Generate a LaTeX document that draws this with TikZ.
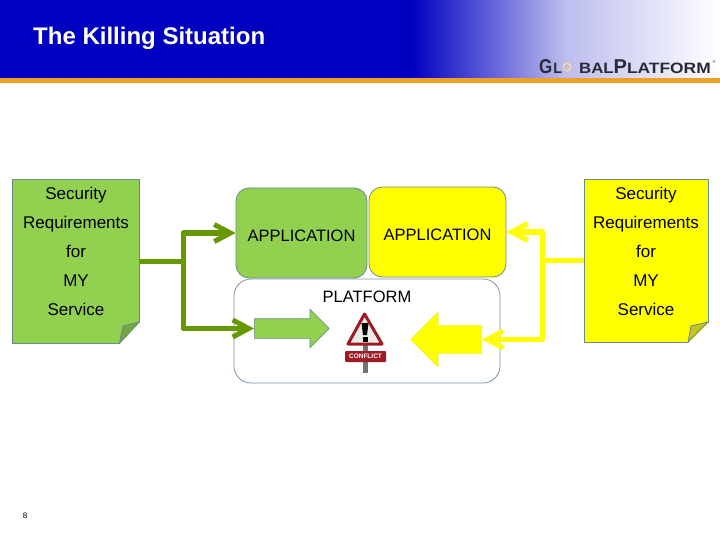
\documentclass[tikz,border=0pt]{standalone}
\usepackage{fontspec}
\setmainfont{Liberation Sans}
\usetikzlibrary{arrows.meta,shapes.arrows,shapes.geometric}
\definecolor{gpblue}{HTML}{0000C0}
\definecolor{gporange}{HTML}{F0A028}
\definecolor{docgreen}{HTML}{92D050}
\definecolor{docyellow}{HTML}{FFFF00}
\definecolor{lingreen}{HTML}{669900}
\definecolor{foldgreen}{HTML}{75A642}
\definecolor{foldyellow}{HTML}{C4C41E}
\definecolor{edgegray}{HTML}{6C8C8C}
\definecolor{platedge}{HTML}{7A94AA}
\definecolor{signred}{HTML}{A01C24}
\definecolor{logogray}{HTML}{2A2A36}
\tikzset{
	secdoc/.style={rectangle,draw=edgegray,line width=0.8pt,inner sep=0pt},
	sectext/.style={inner sep=0pt,align=center,font=\fontsize{17}{29}\selectfont},
	appbox/.style={rectangle,rounded corners=13pt,draw=edgegray,line width=0.8pt,text height=17pt,font=\fontsize{16.5}{20}\selectfont},
	blockarrow/.style={single arrow,draw=edgegray,line width=0.6pt,inner xsep=0pt,inner ysep=#1,single arrow head extend=#1},
	greenline/.style={draw=lingreen,line width=5pt,line join=round,line cap=round},
	yellowline/.style={draw=docyellow,line width=5pt,line join=round,line cap=round},
	linetip/.style={-{Straight Barb[length=16pt,width=17pt]}}
}
\begin{document}
\begin{tikzpicture}[x=1pt,y=-1pt]
	\useasboundingbox (0,0) rectangle (720,540);
	% header
	\fill[gpblue] (0,0) rectangle (412,78);
	\shade[left color=gpblue,right color=white,middle color=gpblue!26] (411,0) rectangle (720,78);
	\fill[gporange] (0,78) rectangle (720,83);
	\node[anchor=base west,white,inner sep=0pt,font=\bfseries\fontsize{24}{28}\selectfont] (title) at (33,45) {The Killing Situation};
	\node[anchor=base west,inner sep=0pt,text=logogray,font=\bfseries\fontsize{20}{22}\selectfont] (logo) at (539,74) {\scalebox{0.85}[1]{G}\hspace{1pt}\fontsize{15}{22}\selectfont\scalebox{0.95}[1]{L}\hspace{17pt}\scalebox{1.12}[1]{BAL}\fontsize{20}{22}\selectfont P\fontsize{15}{22}\selectfont\scalebox{1.16}[1]{LATFORM}};
	\draw[gporange!45,line width=1.6pt] (567,67) circle (3.8pt);
	\node[inner sep=0pt,text=black!60,font=\fontsize{4}{4}\selectfont] (regmark) at (714,62) {R};
	% the two requirement sheets
	\node[secdoc,fill=docgreen,minimum width=127pt,minimum height=164pt] (secL) at (75.5,261) {};
	\fill[white] (119.5,344.5) -- (140.5,344.5) -- (140.5,322) -- cycle;
	\draw[edgegray,line width=0.8pt,fill=foldgreen] (119.5,343) -- (123,326) -- (139,322) -- cycle;
	\node[sectext] (secLtext) at (76,251.2) {Security\\Requirements\\for\\MY\\Service};
	\node[secdoc,fill=docyellow,minimum width=124pt,minimum height=163pt] (secR) at (646,260.5) {};
	\fill[white] (688,343.5) -- (709.5,343.5) -- (709.5,322) -- cycle;
	\draw[edgegray,line width=0.8pt,fill=foldyellow] (688,342) -- (691,326) -- (708,322) -- cycle;
	\node[sectext] (secRtext) at (646,251.2) {Security\\Requirements\\for\\MY\\Service};
	% stack in the middle
	\node[appbox,fill=docgreen,minimum width=131pt,minimum height=90pt] (appL) at (301.5,233) {APPLICATION};
	\node[appbox,fill=docyellow,minimum width=137pt,minimum height=90pt] (appR) at (437.5,232) {APPLICATION};
	\node[rectangle,rounded corners=17pt,draw=platedge,line width=0.8pt,fill=white,minimum width=266pt,minimum height=104pt] (plat) at (367,331) {};
	\node[font=\fontsize{16.5}{20}\selectfont,inner sep=0pt] (plattext) at (367,297) {PLATFORM};
	\node[blockarrow=9.5pt,fill=docgreen,minimum height=75pt,anchor=tail] (blockL) at (254,328.5) {};
	\node[blockarrow=13.5pt,fill=docyellow,draw=docyellow!80!docgreen,minimum height=71pt,shape border rotate=180,anchor=tail] (blockR) at (482,339.5) {};
	% conflict sign
	\fill[black!55] (363,335) rectangle (368,373);
	\draw[signred,line width=3pt,line join=round,fill=black!8] (364.5,314) -- (348,344) -- (382,344) -- cycle;
	\fill[black] (361.5,323) -- (368.5,323) -- (367,335) -- (363,335) -- cycle;
	\fill[black] (362.5,337) rectangle (367.5,342);
	\node[rectangle,fill=signred,rounded corners=1pt,minimum width=41pt,minimum height=11pt,inner sep=0pt,text=white,font=\bfseries\fontsize{6.5}{7}\selectfont] (signplate) at (365.5,356.5) {CONFLICT};
	% connectors
	\coordinate (greenjoin) at (183,261);
	\coordinate (yellowjoin) at (542,260.5);
	\draw[greenline,line cap=butt] (secL.east) -- (greenjoin);
	\draw[greenline,linetip] (greenjoin) |- (appL.west);
	\draw[greenline,linetip] (greenjoin) |- (blockL.tail);
	\draw[yellowline,line cap=butt] (secR.west) -- (yellowjoin);
	\draw[yellowline,linetip] (yellowjoin) |- (appR.east);
	\draw[yellowline,linetip] (yellowjoin) |- (blockR.tail);
	% page number
	\node[inner sep=0pt,font=\fontsize{8}{9}\selectfont] (pagenum) at (25,516) {8};
\end{tikzpicture}
\end{document}
